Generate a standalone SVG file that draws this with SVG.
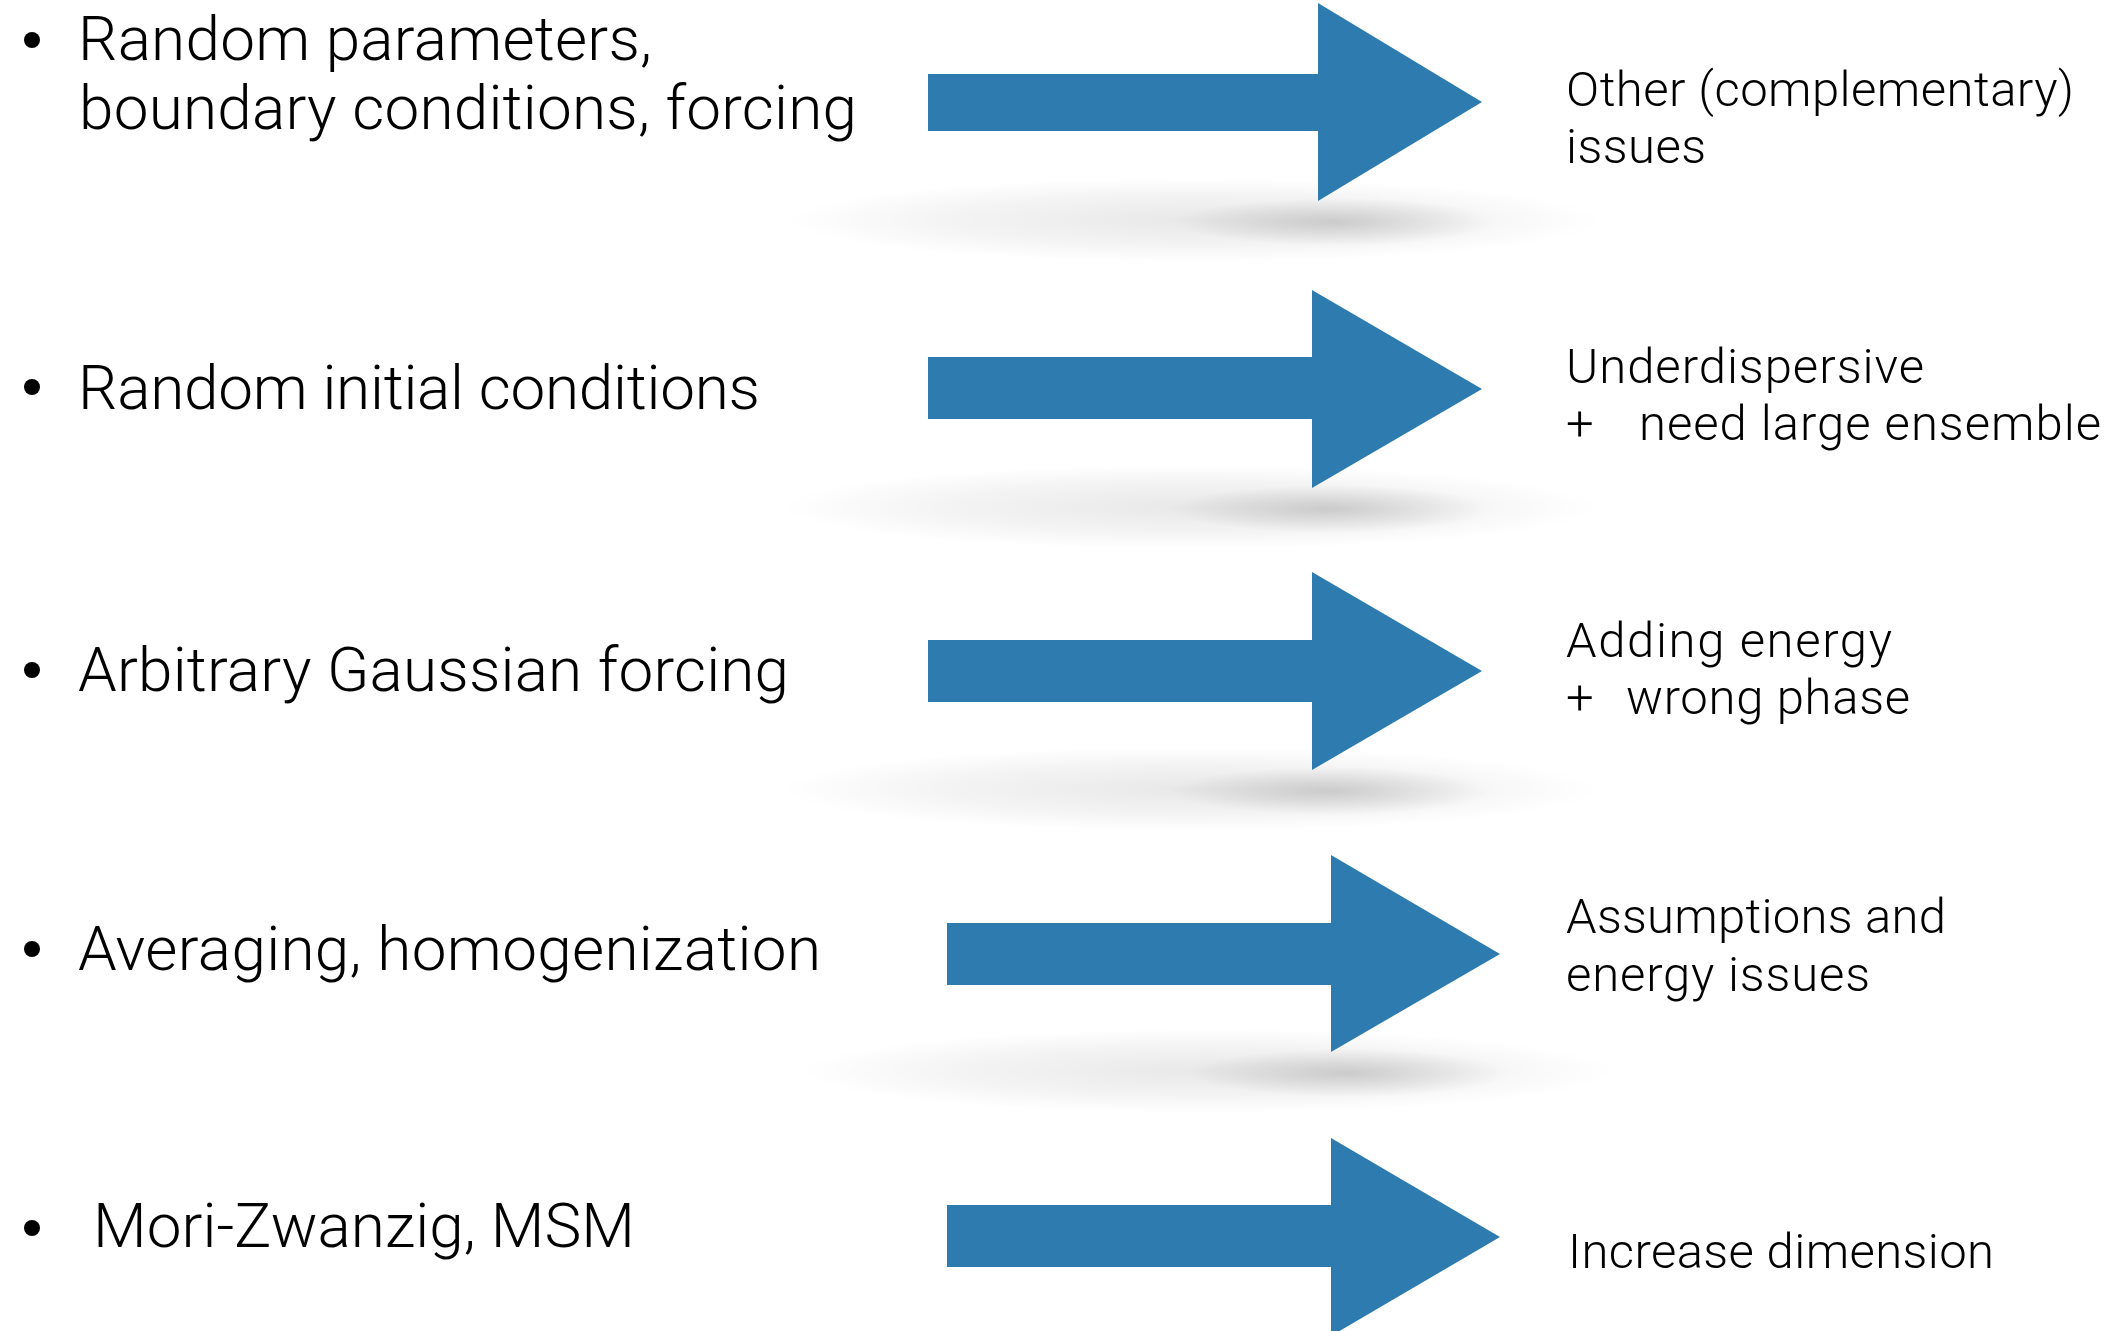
<svg xmlns="http://www.w3.org/2000/svg" width="2112" height="1331" viewBox="0 0 2112 1331">
<defs>
<radialGradient id="shWide" cx="0.5" cy="0.5" r="0.5">
<stop offset="0" stop-color="#000" stop-opacity="0.09"/>
<stop offset="0.6" stop-color="#000" stop-opacity="0.045"/>
<stop offset="1" stop-color="#000" stop-opacity="0"/>
</radialGradient>
<radialGradient id="shCore" cx="0.5" cy="0.5" r="0.5">
<stop offset="0" stop-color="#000" stop-opacity="0.15"/>
<stop offset="1" stop-color="#000" stop-opacity="0"/>
</radialGradient>
<symbol id="shadow" overflow="visible">
<ellipse cx="-140" cy="-2" rx="410" ry="42" fill="url(#shWide)"/>
<ellipse cx="0" cy="0" rx="160" ry="24" fill="url(#shCore)"/>
</symbol>
</defs>
<style>
.arrow{fill:#2d7baf}
.lt{font-family:Roboto,"Liberation Sans",sans-serif;font-weight:300;font-size:62px;fill:#000}
.rt{font-family:Roboto,"Liberation Sans",sans-serif;font-weight:300;font-size:49px;fill:#000}
.bul{fill:#000}
</style>
<rect width="2112" height="1331" fill="#fff"/>

<g id="shadows">
<use href="#shadow" x="1335" y="222"/>
<use href="#shadow" x="1330" y="509"/>
<use href="#shadow" x="1330" y="791"/>
<use href="#shadow" x="1348" y="1073"/>
</g>

<g id="connectors">
<path id="arrow1" class="arrow" d="M928,74 H1318 V3 L1482,102 L1318,201 V131 H928 Z"/>
<path id="arrow2" class="arrow" d="M928,357 H1312 V290 L1482,389 L1312,488 V419 H928 Z"/>
<path id="arrow3" class="arrow" d="M928,640 H1312 V572 L1482,671 L1312,770 V702 H928 Z"/>
<path id="arrow4" class="arrow" d="M947,923 H1331 V855 L1500,954 L1331,1052 V985 H947 Z"/>
<path id="arrow5" class="arrow" d="M947,1205 H1331 V1138 L1500,1237 L1331,1336 V1267 H947 Z"/>
</g>

<g id="item1">
<circle class="bul" cx="32" cy="40" r="8"/>
<text class="lt" x="78" y="60" textLength="574" lengthAdjust="spacing">Random parameters,</text>
<text class="lt" x="79" y="129" textLength="778" lengthAdjust="spacing">boundary conditions, forcing</text>
</g>
<g id="item2">
<circle class="bul" cx="32" cy="387" r="8"/>
<text class="lt" x="78" y="409" textLength="682" lengthAdjust="spacing">Random initial conditions</text>
</g>
<g id="item3">
<circle class="bul" cx="32" cy="670" r="8"/>
<text class="lt" x="78" y="691" textLength="711" lengthAdjust="spacing">Arbitrary Gaussian forcing</text>
</g>
<g id="item4">
<circle class="bul" cx="32" cy="949" r="8"/>
<text class="lt" x="78" y="970" textLength="743" lengthAdjust="spacing">Averaging, homogenization</text>
</g>
<g id="item5">
<circle class="bul" cx="32" cy="1228" r="8"/>
<text class="lt" x="93" y="1247" textLength="542" lengthAdjust="spacing">Mori-Zwanzig, MSM</text>
</g>

<g id="result1">
<text class="rt" x="1566" y="106" textLength="508" lengthAdjust="spacing">Other (complementary)</text>
<text class="rt" x="1566" y="163" textLength="140" lengthAdjust="spacing">issues</text>
</g>
<g id="result2">
<text class="rt" x="1566" y="383" textLength="358" lengthAdjust="spacing">Underdispersive</text>
<text class="rt" x="1566" y="440">+</text>
<text class="rt" x="1639" y="440" textLength="462" lengthAdjust="spacing">need large ensemble</text>
</g>
<g id="result3">
<text class="rt" x="1566" y="657" textLength="326" lengthAdjust="spacing">Adding energy</text>
<text class="rt" x="1566" y="714">+</text>
<text class="rt" x="1626" y="714" textLength="284" lengthAdjust="spacing">wrong phase</text>
</g>
<g id="result4">
<text class="rt" x="1566" y="933" textLength="380" lengthAdjust="spacing">Assumptions and</text>
<text class="rt" x="1566" y="991" textLength="304" lengthAdjust="spacing">energy issues</text>
</g>
<g id="result5">
<text class="rt" x="1568" y="1268" textLength="426" lengthAdjust="spacing">Increase dimension</text>
</g>
</svg>
